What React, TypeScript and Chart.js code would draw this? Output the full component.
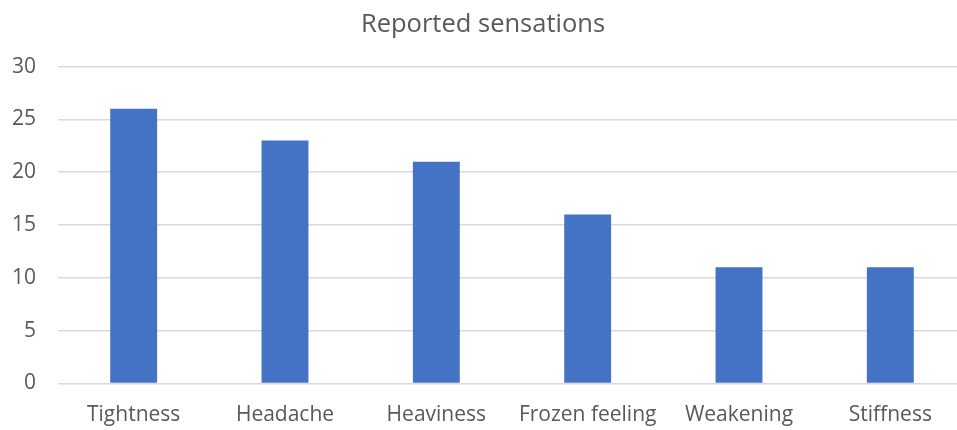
import React, { useEffect, useRef } from "react";
import { Chart, registerables } from "chart.js";

Chart.register(...registerables);

const categories = ["Tightness", "Headache", "Heaviness", "Frozen feeling", "Weakening", "Stiffness"];
const counts = [26, 23, 21, 16, 11, 11];
const chartTitle = "Reported sensations";

export default function App() {
  const ref = useRef<HTMLCanvasElement | null>(null);

  useEffect(() => {
    if (!ref.current) return;
    const chart = new Chart(ref.current, {
      type: "bar",
      data: {
        labels: categories,
        datasets: [
          {
            data: counts,
            backgroundColor: "#4472C4",
            barPercentage: 0.31,
            categoryPercentage: 1,
          },
        ],
      },
      options: {
        animation: false,
        responsive: true,
        maintainAspectRatio: false,
        layout: { padding: { left: 0, right: 0, top: 0, bottom: 0 } },
        plugins: {
          legend: { display: false },
          tooltip: { enabled: false },
          title: {
            display: true,
            text: chartTitle,
            color: "#595959",
            font: { family: "'Open Sans'", size: 25.5, weight: "normal" },
            padding: { top: 9, bottom: 27 },
          },
        },
        scales: {
          x: {
            afterFit: (s: any) => {
              s.height = 46.5;
            },
            grid: { display: false, drawTicks: false },
            border: { display: false },
            ticks: {
              color: "#595959",
              font: { family: "'Open Sans'", size: 21 },
              padding: 19,
              maxRotation: 0,
              autoSkip: false,
            },
          },
          y: {
            min: 0,
            max: 30,
            afterFit: (s: any) => {
              s.width = 58;
            },
            grid: { color: "#d9d9d9", lineWidth: 1.5, drawTicks: false },
            border: { display: false },
            ticks: {
              stepSize: 5,
              color: "#595959",
              font: { family: "'Open Sans'", size: 21 },
              padding: 22,
            },
          },
        },
      },
    });
    return () => chart.destroy();
  }, []);

  return (
    <div style={{ position: "fixed", left: 0, top: 0, width: 966, height: 430, background: "#fff" }}>
      <canvas ref={ref} />
    </div>
  );
}
